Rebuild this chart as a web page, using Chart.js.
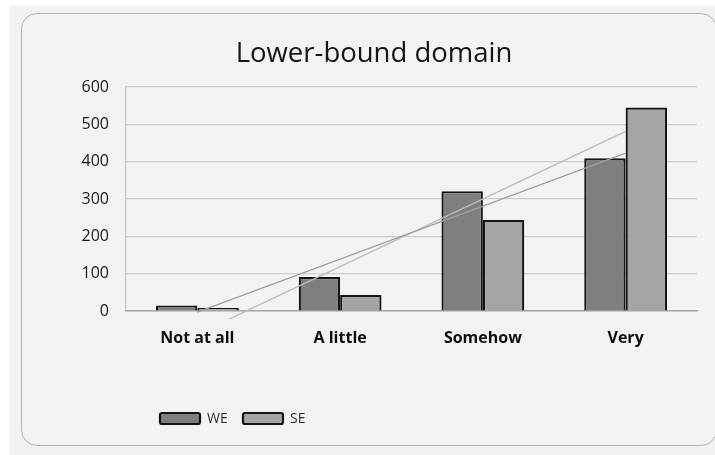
<!DOCTYPE html>
<html>
<head>
<meta charset="utf-8">
<script src="https://cdn.jsdelivr.net/npm/chart.js@4.4.1/dist/chart.umd.min.js"></script>
<style>
  html, body { margin: 0; padding: 0; background: #ffffff; overflow: hidden; }
  #wrap { position: relative; width: 715px; height: 455px; }
  #panel { position: absolute; left: 9px; top: 6px; width: 706px; height: 449px; background: #f2f2f2; }
  #frame { position: absolute; left: 21px; top: 13px; width: 696px; height: 433px;
           border: 1.5px solid #b4b4b4; border-radius: 16px; box-sizing: border-box; background: #f3f3f3; }
  canvas { position: absolute; left: 0; top: 0; }
</style>
</head>
<body>
<div id="wrap">
  <div id="panel"></div>
  <div id="frame"></div>
  <canvas id="chart" width="715" height="455"></canvas>
</div>
<script>
// Categories and series
const categories = ['Not at all', 'A little', 'Somehow', 'Very'];
const weValues = [15, 91, 321, 409];
const seValues = [8, 43, 244, 545];
// Linear trend lines: start and end values at the first and last category
const weTrend = [-3, null, null, 423];
const seTrend = [-62, null, null, 481];
// Y axis range and tick step
const yMin = 0;
const yMax = 600;
const yStep = 100;

const FONT = "'Open Sans', 'Noto Sans', sans-serif";

// Legend drawn under the plot, boxes with black outline
const bottomLegend = {
  id: 'bottomLegend',
  afterDraw(chart) {
    const ctx = chart.ctx;
    const items = chart.data.datasets.filter(d => d.type === 'bar');
    let x = 160;
    const y = 413;
    ctx.save();
    ctx.font = '14px ' + FONT;
    ctx.textBaseline = 'middle';
    items.forEach(d => {
      ctx.beginPath();
      ctx.roundRect(x, y, 40, 11, 2);
      ctx.fillStyle = d.backgroundColor;
      ctx.fill();
      ctx.lineWidth = 2.2;
      ctx.strokeStyle = d.borderColor;
      ctx.stroke();
      ctx.fillStyle = '#2a2a2a';
      ctx.fillText(d.label, x + 47, y + 6);
      x += 83;
    });
    ctx.restore();
  }
};

new Chart(document.getElementById('chart'), {
  data: {
    labels: categories,
    datasets: [
      { type: 'bar', label: 'WE', data: weValues, backgroundColor: '#7f7f7f', borderColor: '#141414',
        borderWidth: 2.2, order: 2, barPercentage: 1.0, categoryPercentage: 0.58 },
      { type: 'bar', label: 'SE', data: seValues, backgroundColor: '#a5a5a5', borderColor: '#141414',
        borderWidth: 2.2, order: 2, barPercentage: 1.0, categoryPercentage: 0.58 },
      { type: 'line', label: 'WE trend', data: weTrend, spanGaps: true, borderColor: '#a0a0a0',
        borderWidth: 1.3, pointRadius: 0, fill: false, order: 1,
        clip: { left: 0, top: 0, right: 0, bottom: 8 } },
      { type: 'line', label: 'SE trend', data: seTrend, spanGaps: true, borderColor: '#bcbcbc',
        borderWidth: 1.3, pointRadius: 0, fill: false, order: 1,
        clip: { left: 0, top: 0, right: 0, bottom: 8 } }
    ]
  },
  options: {
    responsive: false,
    animation: false,
    devicePixelRatio: 1,
    layout: { padding: { left: 51, right: 18, top: 24, bottom: 104 } },
    plugins: {
      legend: { display: false },
      tooltip: { enabled: false },
      title: {
        display: true,
        text: 'Lower-bound domain',
        color: '#151515',
        font: { family: FONT, size: 27.5, weight: 'normal' },
        padding: { top: 14, bottom: 16 }
      }
    },
    scales: {
      x: {
        grid: { display: false },
        border: { display: true, color: '#a8a8a8', width: 1.5 },
        ticks: { color: '#0d0d0d', padding: 10, font: { family: FONT, size: 16, weight: 'bold' } },
        afterFit(scale) { scale.height = 40; }
      },
      y: {
        min: yMin,
        max: yMax,
        grid: { color: '#cdcdcd', lineWidth: 1.2, drawTicks: false },
        border: { display: true, color: '#c4c4c4', width: 1.2 },
        ticks: { stepSize: yStep, color: '#1a1a1a', padding: 17, font: { family: FONT, size: 16 } },
        afterFit(scale) { scale.width = 75; }
      }
    }
  },
  plugins: [bottomLegend]
});
</script>
</body>
</html>
